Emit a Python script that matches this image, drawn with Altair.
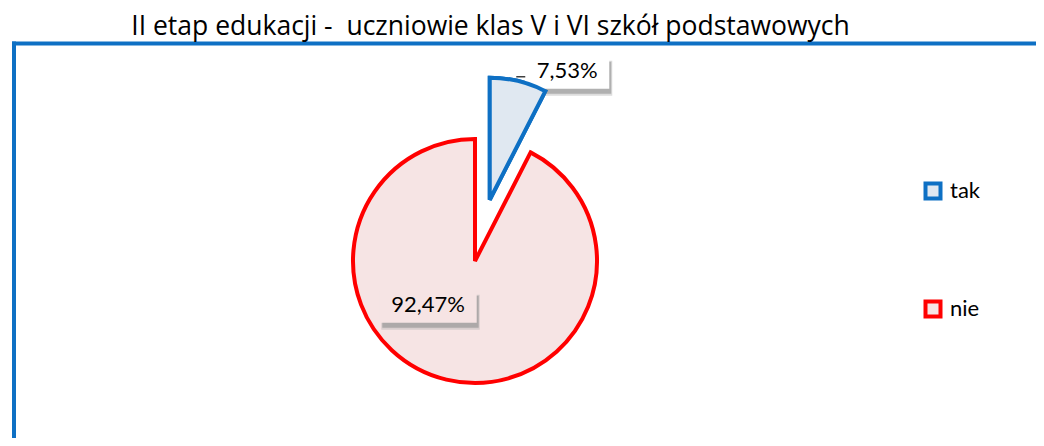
import math
import altair as alt
import pandas as pd

title_text = "II etap edukacji -\u00a0 uczniowie klas V i VI szkół podstawowych"
categories = ["tak", "nie"]
values = [7.53, 92.47]
labels = ["7,53%", "92,47%"]

fill_colors = ["#E0E8F1", "#F6E4E4"]
stroke_colors = ["#0E70C4", "#FF0000"]
box_colors = ["#FFFFFF", "#F6E4E4"]

FONT = "Lato"
CX, CY, R = 467, 253, 122
EXPLODE = 63

df = pd.DataFrame({
    "cat": categories,
    "value": values,
    "label": labels,
    "order": list(range(len(categories))),
})

base = (
    alt.Chart(df)
    .transform_stack(stack="value", as_=["v0", "v1"], groupby=[],
                     sort=[alt.SortField(field="order", order="ascending")])
    .transform_calculate(
        mid="(datum.v0 + datum.v1) / 100 * PI",
        ex=f"datum.cat === 'tak' ? {EXPLODE} : 0",
    )
    .transform_calculate(
        cx=f"{CX} + datum.ex * sin(datum.mid)",
        cy=f"{CY} - datum.ex * cos(datum.mid)",
    )
    .transform_calculate(
        lx="datum.cx + (datum.cat === 'tak' ? 77.5 : -47)",
        ly="datum.cy + (datum.cat === 'tak' ? -122 : 50.7)",
        hw="6.7 * length(datum.label) + 8.5",
    )
    .transform_calculate(
        bx1="datum.lx - datum.hw",
        bx2="datum.lx + datum.hw",
        by1="datum.ly - 20",
        by2="datum.ly + 11",
        tx1="datum.lx - datum.hw - 9",
        ty="datum.ly - 1",
    )
)

legend = alt.Legend(
    title=None, orient="none", legendX=914, legendY=172,
    symbolType="square", symbolSize=225, symbolStrokeWidth=4,
    labelFont=FONT, labelFontSize=22, labelColor="#000000",
    labelOffset=6, rowPadding=86, padding=0,
)

fill_enc = alt.Fill("cat:N", scale=alt.Scale(domain=categories, range=fill_colors), legend=legend)
stroke_enc = alt.Stroke("cat:N", scale=alt.Scale(domain=categories, range=stroke_colors), legend=legend)
theta_enc = alt.Theta("v0:Q", scale=alt.Scale(domain=[0, 100], range=[0, 2 * math.pi]))

xc = alt.X("cx:Q", scale=None, axis=None)
yc = alt.Y("cy:Q", scale=None, axis=None)

arcs = base.mark_arc(radius=R, strokeWidth=4, strokeJoin="miter").encode(
    x=xc, y=yc, theta=theta_enc, theta2="v1:Q", fill=fill_enc, stroke=stroke_enc,
)

# soft drop shadow of the label boxes (two overlapping rects)
shadow_outer = base.transform_calculate(
    s1="datum.bx1 + 2", s2="datum.bx2 + 3", s3="datum.by1 + 3", s4="datum.by2 + 7"
).mark_rect(color="#B4B4B4", opacity=0.45).encode(
    x=alt.X("s1:Q", scale=None, axis=None), x2="s2:Q",
    y=alt.Y("s3:Q", scale=None, axis=None), y2="s4:Q",
)
shadow_inner = base.transform_calculate(
    s1="datum.bx1 + 3", s2="datum.bx2 + 2", s3="datum.by1 + 4", s4="datum.by2 + 5"
).mark_rect(color="#8A8A8A", opacity=0.55).encode(
    x=alt.X("s1:Q", scale=None, axis=None), x2="s2:Q",
    y=alt.Y("s3:Q", scale=None, axis=None), y2="s4:Q",
)

boxes = base.mark_rect().encode(
    x=alt.X("bx1:Q", scale=None, axis=None), x2="bx2:Q",
    y=alt.Y("by1:Q", scale=None, axis=None), y2="by2:Q",
    color=alt.Color("cat:N", scale=alt.Scale(domain=categories, range=box_colors), legend=None),
)

tak_arc = base.transform_filter("datum.cat === 'tak'").mark_arc(
    radius=R, strokeWidth=4, strokeJoin="miter"
).encode(x=xc, y=yc, theta=theta_enc, theta2="v1:Q", fill=fill_enc, stroke=stroke_enc)

leader = base.transform_filter("datum.cat === 'tak'").mark_rule(
    color="#404040", strokeWidth=1.5
).encode(
    x=alt.X("tx1:Q", scale=None, axis=None), x2="bx1:Q",
    y=alt.Y("ty:Q", scale=None, axis=None),
)

texts = base.mark_text(font=FONT, fontSize=22, color="#000000", align="center",
                       baseline="alphabetic").encode(
    x=alt.X("lx:Q", scale=None, axis=None),
    y=alt.Y("ly:Q", scale=None, axis=None),
    text="label:N",
)

title_df = pd.DataFrame({"t": [title_text]})
title = alt.Chart(title_df).mark_text(font="Open Sans", fontSize=26.5, color="#000000",
                                      align="center", baseline="alphabetic").encode(
    text="t:N", x=alt.value(482.5), y=alt.value(26.5),
)

frame_top = alt.Chart(title_df).mark_rule(color="#0E70C4", strokeWidth=4).encode(
    x=alt.value(4), x2=alt.value(1030), y=alt.value(35.5),
)
frame_left = alt.Chart(title_df).mark_rule(color="#0E70C4", strokeWidth=4).encode(
    x=alt.value(6), y=alt.value(33.5), y2=alt.value(432),
)

chart = alt.layer(
    frame_top, frame_left, title, arcs, shadow_outer, shadow_inner, boxes,
    tak_arc, leader, texts
).resolve_scale(color="independent").properties(
    width=1028, height=430, padding=0,
    autosize=alt.AutoSizeParams(type="none"),
).configure_view(stroke=None)

chart.save("out.html", embed_options={"renderer": "svg", "actions": False})
